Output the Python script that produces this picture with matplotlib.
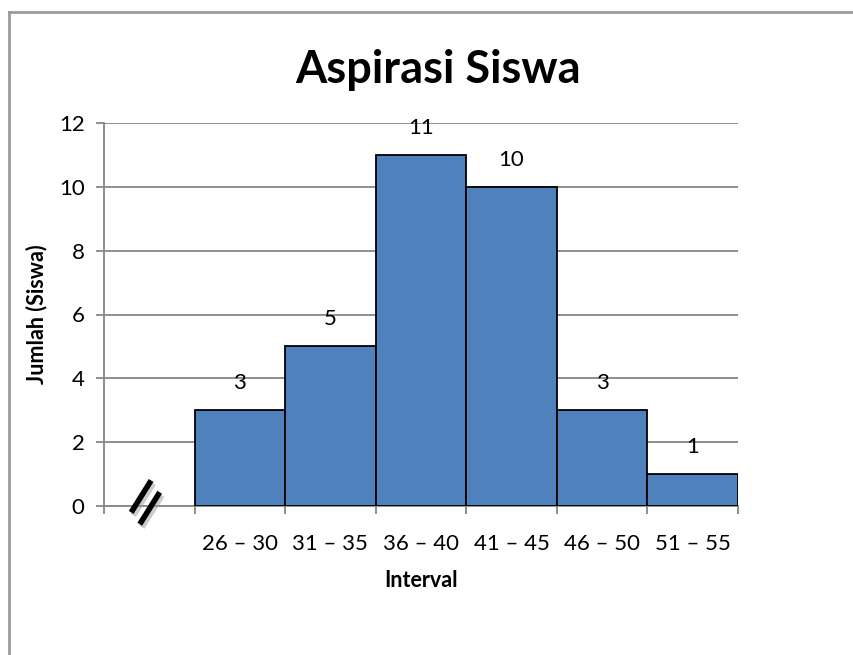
import matplotlib
matplotlib.use('Agg')
import matplotlib.pyplot as plt
from matplotlib.lines import Line2D
from matplotlib.transforms import ScaledTranslation

plt.rcParams['font.family'] = ['Lato', 'DejaVu Sans']

# data
intervals = ["", "26 – 30", "31 – 35", "36 – 40", "41 – 45", "46 – 50", "51 – 55"]
counts = [0, 3, 5, 11, 10, 3, 1]
y_ticks = [0, 2, 4, 6, 8, 10, 12]

bar_color = "#4F81BD"
grid_color = "#868686"

fig = plt.figure(figsize=(8.54, 6.55), dpi=100, facecolor="white")
ax = fig.add_axes([104 / 854, 1 - 506 / 655, (738 - 104) / 854, (506 - 123) / 655])

x = list(range(len(intervals)))
# first category is the empty "break" slot, only bars with data are drawn
bx = [i for i, c in zip(x, counts) if c > 0]
bc = [c for c in counts if c > 0]
ax.bar(bx, bc, width=1.0, color=bar_color, edgecolor="black", linewidth=1.3, zorder=3)

for i, c in zip(bx, bc):
    ax.annotate(str(c), (i, c), xytext=(0, 19.5), textcoords="offset points",
                ha="center", va="center", fontsize=16)

ax.set_xlim(-0.5, len(intervals) - 0.5)
ax.set_ylim(0, 12)
ax.set_yticks(y_ticks)
ax.yaxis.grid(True, color=grid_color, linewidth=1.3, zorder=0)
ax.set_axisbelow(True)

# category boundaries as major ticks, labels on minor ticks
ax.set_xticks([i - 0.5 for i in range(len(intervals) + 1)])
ax.set_xticklabels([])
ax.set_xticks(x, minor=True)
ax.set_xticklabels(intervals, minor=True)
ax.tick_params(axis="x", which="major", length=6, width=1.3, color=grid_color, direction="out")
ax.tick_params(axis="x", which="minor", length=0, pad=20, labelsize=16)
ax.tick_params(axis="y", length=6, width=1.3, color=grid_color, labelsize=16, pad=8)

for s in ["top", "right"]:
    ax.spines[s].set_visible(False)
for s in ["left", "bottom"]:
    ax.spines[s].set_color(grid_color)
    ax.spines[s].set_linewidth(1.3)

ax.set_xlabel("Interval", fontsize=15.5, fontweight="bold", labelpad=12)
ax.set_ylabel("Jumlah (Siswa)", fontsize=15.5, fontweight="bold", labelpad=8)
fig.text(438 / 854, 1 - 70 / 655, "Aspirasi Siswa", ha="center", va="center",
         fontsize=32.5, fontweight="bold")

# axis break marks //
shadow = ax.transData + ScaledTranslation(2 / 100, -3 / 100, fig.dpi_scale_trans)
for dx in (0.0, 0.095):
    xs = [-0.2 + dx, 0.02 + dx]
    ys = [-0.2 - dx * 3.9, 0.8 - dx * 3.9]
    ax.plot(xs, ys, color="#999999", linewidth=4.5, clip_on=False, zorder=4,
            alpha=0.5, solid_capstyle="butt", transform=shadow)
    ax.plot(xs, ys, color="black", linewidth=4, clip_on=False, zorder=5,
            solid_capstyle="butt")

# chart frame (left and top edges visible)
fig.add_artist(Line2D([9 / 854, 9 / 854], [0, 1 - 12 / 655], color="#9a9a9a", linewidth=2))
fig.add_artist(Line2D([9 / 854, 1], [1 - 12 / 655, 1 - 12 / 655], color="#9a9a9a", linewidth=2))

fig.savefig("out.png", dpi=100, facecolor="white")
